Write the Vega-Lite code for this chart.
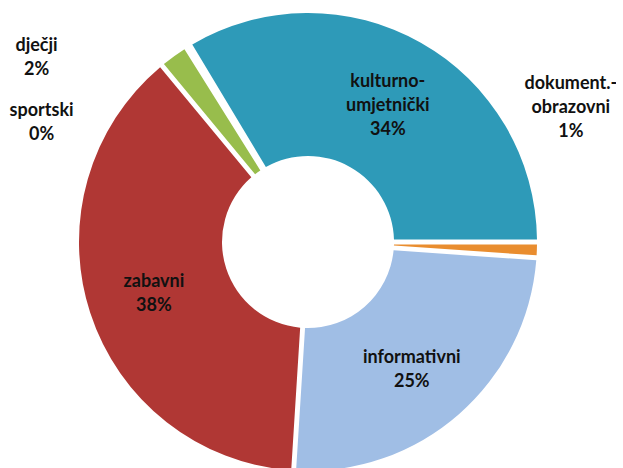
{
  "$schema": "https://vega.github.io/schema/vega-lite/v6.json",
  "width": 616,
  "height": 484,
  "autosize": {"type": "none"},
  "padding": 0,
  "background": "white",
  "view": {"stroke": null},
  "data": {
    "values": [
      {"category": "kulturno-umjetnički", "rank": 1, "value": 33.6, "label": "kulturno-\numjetnički\n34%"},
      {"category": "dokument.-obrazovni", "rank": 2, "value": 1.1, "label": "dokument.-\nobrazovni\n1%"},
      {"category": "informativni", "rank": 3, "value": 24.9, "label": "informativni\n25%"},
      {"category": "zabavni", "rank": 4, "value": 38.0, "label": "zabavni\n38%"},
      {"category": "dječji", "rank": 5, "value": 2.1, "label": "dječji\n2%"},
      {"category": "sportski", "rank": 6, "value": 0.3, "label": "sportski\n0%"}
    ]
  },
  "encoding": {
    "theta": {"field": "value", "type": "quantitative", "stack": true,
      "scale": {"type": "linear", "domain": [0, 100], "range": [-0.5404, 5.7428]}},
    "order": {"field": "rank", "type": "quantitative"}
  },
  "layer": [
    {
      "mark": {"type": "arc", "outerRadius": 229, "innerRadius": 86, "padAngle": 0.02},
      "encoding": {
        "color": {"field": "category", "type": "nominal", "legend": null,
          "scale": {
            "domain": ["kulturno-umjetnički", "dokument.-obrazovni", "informativni", "zabavni", "dječji", "sportski"],
            "range": ["#2e9ab8", "#e98d2f", "#a0bee5", "#b03734", "#98bd4c", "#8064a2"]
          }}
      }
    },
    {
      "mark": {"type": "text", "radius": 162, "dy": -19, "font": "Lato", "fontWeight": "bold", "fontSize": 18, "lineHeight": 24, "lineBreak": "\n", "color": "#111111", "align": "center", "baseline": "middle"},
      "encoding": {
        "text": {"condition": {"test": "datum.category === 'kulturno-umjetnički'", "field": "label"}, "value": ""}
      }
    },
    {
      "mark": {"type": "text", "radius": 162, "dx": -3, "dy": -6, "font": "Lato", "fontWeight": "bold", "fontSize": 18, "lineHeight": 24, "lineBreak": "\n", "color": "#111111", "align": "center", "baseline": "middle"},
      "encoding": {
        "text": {"condition": {"test": "datum.category === 'informativni'", "field": "label"}, "value": ""}
      }
    },
    {
      "mark": {"type": "text", "radius": 162, "dy": -10, "font": "Lato", "fontWeight": "bold", "fontSize": 18, "lineHeight": 24, "lineBreak": "\n", "color": "#111111", "align": "center", "baseline": "middle"},
      "encoding": {
        "text": {"condition": {"test": "datum.category === 'zabavni'", "field": "label"}, "value": ""}
      }
    },
    {
      "mark": {"type": "text", "radius": 240, "dx": -131, "dy": -1, "font": "Lato", "fontWeight": "bold", "fontSize": 18, "lineHeight": 24, "lineBreak": "\n", "color": "#111111", "align": "center", "baseline": "middle"},
      "encoding": {
        "text": {"condition": {"test": "datum.category === 'dječji'", "field": "label"}, "value": ""}
      }
    },
    {
      "mark": {"type": "text", "radius": 240, "dx": -141, "dy": 74, "font": "Lato", "fontWeight": "bold", "fontSize": 18, "lineHeight": 24, "lineBreak": "\n", "color": "#111111", "align": "center", "baseline": "middle"},
      "encoding": {
        "text": {"condition": {"test": "datum.category === 'sportski'", "field": "label"}, "value": ""}
      }
    },
    {
      "mark": {"type": "text", "radius": 240, "dx": 23, "dy": -166, "font": "Lato", "fontWeight": "bold", "fontSize": 18, "lineHeight": 24, "lineBreak": "\n", "color": "#111111", "align": "center", "baseline": "middle"},
      "encoding": {
        "text": {"condition": {"test": "datum.category === 'dokument.-obrazovni'", "field": "label"}, "value": ""}
      }
    }
  ]
}
